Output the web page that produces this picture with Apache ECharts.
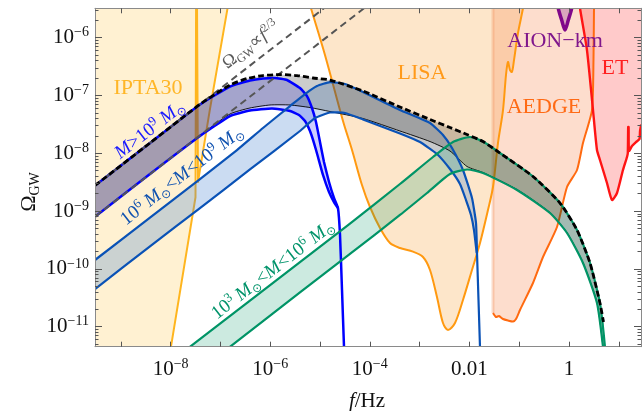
<!DOCTYPE html>
<html><head><meta charset="utf-8">
<script src="https://cdn.jsdelivr.net/npm/echarts@6/dist/echarts.min.js"></script>
<style>html,body{margin:0;padding:0;background:#fff}#c{width:642px;height:411px}</style>
</head><body><div id="c"></div>
<script>
// All values are log10(f/Hz), log10(Omega_GW)
const X_MIN = -9.518, X_MAX = 1.446, Y_MIN = -11.346, Y_MAX = -5.491;
const xMajorTicks = [-9,-8,-7,-6,-5,-4,-3,-2,-1,0,1];
const xLabelValues = [-8,-6,-4,-2,0];
const xLabelTexts = ['10^−8','10^−6','10^−4','0.01','1'];
const yMajorTicks = [-11,-10,-9,-8,-7,-6];
const yLabelTexts = ['10^−11','10^−10','10^−9','10^−8','10^−7','10^−6'];

// Sensitivity curves
const iptaCurve = [[-9.60,-11.60],[-8.04,-11.60],[-7.992,-11.346],[-7.711,-9.869],[-7.500,-8.760],[-7.488,-5.36],[-7.470,-5.36],[-7.450,-8.497],[-7.209,-7.230],[-6.857,-5.491],[-6.83,-5.33]];
const lisaCurve = [[-5.245,-5.30],[-5.181,-5.491],[-4.900,-6.299],[-4.538,-7.441],[-4.357,-7.943],[-4.157,-8.549],[-3.996,-8.929],[-3.795,-9.292],[-3.594,-9.552],[-3.394,-9.639],[-3.133,-9.702],[-2.932,-9.794],[-2.791,-10.019],[-2.651,-10.486],[-2.530,-10.936],[-2.430,-11.057],[-2.289,-10.936],[-2.129,-10.538],[-1.948,-10.019],[-1.787,-9.552],[-1.627,-8.981],[-1.526,-8.583],[-1.426,-7.822],[-1.325,-7.251],[-1.265,-6.645],[-1.225,-6.420],[-1.185,-6.559],[-1.145,-6.593],[-1.104,-6.386],[-1.024,-5.919],[-0.924,-5.491],[-0.894,-5.30]];
const aedgeCurve = [[-1.526,-10.763],[-1.466,-10.832],[-1.406,-10.815],[-1.325,-10.867],[-1.225,-10.893],[-1.124,-10.910],[-1.064,-10.867],[-0.984,-10.711],[-0.723,-10.244],[-0.522,-9.794],[-0.241,-9.275],[-0.040,-8.583],[0.161,-8.289],[0.281,-7.822],[0.462,-7.251],[0.492,-6.386],[0.502,-5.491],[0.506,-5.30]];
const etCurve = [[0.201,-5.30],[0.221,-5.491],[0.361,-6.213],[0.482,-7.251],[0.562,-7.943],[0.622,-8.116],[0.763,-8.514],[0.863,-8.808],[0.964,-8.687],[1.084,-8.289],[1.165,-8.064],[1.181,-7.995],[1.189,-7.545],[1.197,-7.545],[1.205,-7.960],[1.265,-7.874],[1.345,-7.805],[1.416,-7.753],[1.426,-7.62],[1.45,-7.50]];
const aionCurve = [[-0.241,-5.30],[-0.215,-5.491],[-0.147,-5.694],[-0.080,-5.867],[-0.014,-5.694],[0.054,-5.491],[0.080,-5.30]];

// SMBH binary bands
const band1Upper = [[-9.518,-8.557],[-8.414,-7.822],[-7.410,-7.156],[-6.807,-6.844],[-6.406,-6.741],[-6.145,-6.706],[-5.904,-6.697],[-5.663,-6.732],[-5.402,-6.870],[-5.261,-7.009],[-5.161,-7.216],[-5.080,-7.459],[-5.000,-7.805],[-4.920,-8.151],[-4.819,-8.497],[-4.719,-8.773],[-4.639,-8.947],[-4.598,-9.414],[-4.558,-10.365],[-4.518,-11.346],[-4.498,-11.75]];
const band1Lower = [[-9.518,-9.097],[-8.414,-8.358],[-7.410,-7.701],[-6.807,-7.355],[-6.406,-7.260],[-5.964,-7.225],[-5.602,-7.268],[-5.422,-7.337],[-5.301,-7.441],[-5.201,-7.614],[-5.120,-7.822],[-5.040,-8.064],[-4.940,-8.375],[-4.819,-8.670],[-4.719,-8.843],[-4.639,-8.947]];
const band2Upper = [[-9.518,-9.846],[-8.414,-9.111],[-7.410,-8.445],[-6.667,-7.943],[-6.145,-7.562],[-5.602,-7.182],[-5.301,-6.974],[-5.060,-6.836],[-4.799,-6.767],[-4.498,-6.801],[-4.137,-6.939],[-3.394,-7.251],[-2.791,-7.476],[-2.530,-7.683],[-2.349,-7.908],[-2.129,-8.289],[-1.948,-8.773],[-1.867,-9.206],[-1.847,-9.725],[-1.817,-10.538],[-1.787,-11.351],[-1.777,-11.663]];
const band2Lower = [[-9.518,-10.348],[-8.414,-9.611],[-7.410,-8.947],[-6.406,-8.280],[-5.402,-7.614],[-5.100,-7.389],[-4.799,-7.294],[-4.498,-7.303],[-4.137,-7.415],[-3.394,-7.657],[-2.992,-7.805],[-2.651,-8.012],[-2.390,-8.272],[-2.189,-8.531],[-2.068,-8.808],[-1.968,-9.067],[-1.908,-9.327],[-1.853,-9.725]];
const band3Upper = [[-7.651,-11.374],[-6.406,-10.547],[-5.402,-9.881],[-4.398,-9.215],[-3.394,-8.531],[-2.731,-8.064],[-2.329,-7.805],[-1.988,-7.718],[-1.727,-7.796],[-1.386,-7.995],[-0.723,-8.401],[-0.181,-8.860],[0.161,-9.327],[0.422,-9.898],[0.622,-10.590],[0.723,-11.351],[0.733,-11.576]];
const band3Lower = [[-6.847,-11.374],[-5.402,-10.408],[-4.398,-9.742],[-3.394,-9.067],[-2.851,-8.687],[-2.390,-8.358],[-2.048,-8.280],[-1.727,-8.341],[-1.044,-8.635],[-0.382,-9.033],[-0.040,-9.379],[0.281,-9.898],[0.562,-10.590],[0.683,-11.351],[0.693,-11.576]];
const totalUpper = [[-9.518,-8.557],[-8.414,-7.822],[-7.410,-7.152],[-6.807,-6.818],[-6.466,-6.706],[-6.145,-6.654],[-5.803,-6.637],[-5.462,-6.654],[-5.141,-6.697],[-4.799,-6.732],[-4.137,-6.922],[-3.394,-7.199],[-2.791,-7.415],[-2.390,-7.554],[-2.048,-7.675],[-1.727,-7.796],[-1.386,-7.995],[-0.723,-8.401],[-0.181,-8.860],[0.161,-9.327],[0.422,-9.898],[0.622,-10.590],[0.693,-10.919]];
const totalLower = [[-9.518,-9.097],[-8.414,-8.358],[-7.410,-7.692],[-6.807,-7.320],[-6.406,-7.216],[-6.004,-7.164],[-5.602,-7.164],[-5.201,-7.208],[-4.799,-7.277],[-4.137,-7.398],[-3.394,-7.614],[-2.791,-7.796],[-2.390,-7.960],[-2.048,-8.228],[-1.727,-8.332],[-1.044,-8.626],[-0.382,-9.024],[-0.040,-9.370],[0.281,-9.889],[0.562,-10.581],[0.683,-11.351],[0.693,-11.576]];
const powerLawUpper = [[-9.518,-8.557],[-4.920,-5.491]];
const powerLawLower = [[-9.518,-9.097],[-4.116,-5.491]];

// ---- rendering helpers ----
const SERIF = '"Liberation Serif","Times New Roman",serif';
const TOP = Y_MAX + 0.2, MID = [(X_MIN + X_MAX) / 2, (Y_MIN + Y_MAX) / 2];
function fillSeries(pts, color, z) {
  return {type:'custom', coordinateSystem:'cartesian2d', clip:true, silent:true, z:z, data:[MID],
    renderItem:(p, api) => ({type:'polygon', shape:{points: pts.map(q => api.coord(q))}, style:{fill:color, stroke:null}})};
}
function strokeSeries(pts, color, width, dash, z, smooth) {
  return {type:'custom', coordinateSystem:'cartesian2d', clip:true, silent:true, z:z, data:[MID],
    renderItem:(p, api) => ({type:'polyline', shape:{points: pts.map(q => api.coord(q)), smooth: smooth || 0},
      style:{stroke:color, lineWidth:width, lineDash: dash || null, fill:null, lineJoin:'round', lineCap:'butt'}})};
}
const rev = a => a.slice().reverse();
const closeTop = c => c.concat([[c[c.length-1][0], TOP], [c[0][0], TOP]]);

const C = {
  ipta:'#ffb51e', iptaFill:'rgba(255,200,80,0.26)',
  lisa:'#ff9910', lisaFill:'rgba(250,178,90,0.32)',
  aedge:'#ff6a10', aedgeFill:'rgba(248,150,100,0.32)',
  et:'#ff1414', etFill:'rgba(255,100,100,0.34)',
  aion:'#80088a', aionFill:'rgba(150,60,160,0.35)',
  b1:'#0000ff', b1Fill:'rgba(60,60,255,0.25)',
  b2:'#0a52b6', b2Fill:'rgba(70,130,210,0.28)',
  b3:'#009466', b3Fill:'rgba(0,150,100,0.2)',
  totFill:'rgba(0,0,0,0.2)'
};

const series = [
  fillSeries(closeTop(iptaCurve), C.iptaFill, 1),
  fillSeries(lisaCurve, C.lisaFill, 1),
  fillSeries(closeTop([[aedgeCurve[0][0], TOP]].concat(aedgeCurve)), C.aedgeFill, 1),
  fillSeries(closeTop(etCurve), C.etFill, 1),
  fillSeries(aionCurve, C.aionFill, 1),
  strokeSeries([[aedgeCurve[0][0], TOP], aedgeCurve[0]], 'rgba(240,150,100,0.35)', 3, null, 2, 0),
  strokeSeries(iptaCurve, C.ipta, 2, null, 2, 0),
  strokeSeries(lisaCurve, C.lisa, 2, null, 2, 0.3),
  strokeSeries(aedgeCurve, C.aedge, 2, null, 2, 0.2),
  strokeSeries(etCurve, C.et, 2.4, null, 2, 0.2),
  strokeSeries(aionCurve, C.aion, 3.5, null, 2, 0.3),
  fillSeries(band1Upper.concat(rev(band1Lower)), C.b1Fill, 3),
  fillSeries(band2Upper.concat(rev(band2Lower)), C.b2Fill, 3),
  fillSeries(band3Upper.concat(rev(band3Lower)), C.b3Fill, 3),
  fillSeries(totalUpper.concat(band3Upper.slice(-2), rev(totalLower)), C.totFill, 3),
  strokeSeries(totalLower, '#000', 0.9, null, 4, 0.2),
  strokeSeries(band1Upper, C.b1, 2.5, null, 5, 0.12),
  strokeSeries(band1Lower, C.b1, 2.5, null, 5, 0.12),
  strokeSeries(band2Upper, C.b2, 2.2, null, 5, 0.15),
  strokeSeries(band2Lower, C.b2, 2.2, null, 5, 0.15),
  strokeSeries(band3Upper, C.b3, 2.2, null, 5, 0.2),
  strokeSeries(band3Lower, C.b3, 2.2, null, 5, 0.2),
  strokeSeries(powerLawUpper, '#555', 2, [7, 4.5], 6, 0),
  strokeSeries(powerLawLower, '#555', 2, [7, 4.5], 6, 0),
  strokeSeries(totalUpper, '#000', 2.8, [6, 3], 7, 0.2)
];

// ---- axes ----
const axisLine = {show:true, onZero:false, lineStyle:{color:'#8a8a8a', width:1}};
const tickLine = {color:'#555', width:1};
const labelRich = {
  b:{fontSize:21, fontFamily:SERIF, color:'#111', lineHeight:24},
  s:{fontSize:14, fontFamily:SERIF, color:'#111', lineHeight:14, verticalAlign:'top'}
};
function fmt(t) {
  if (t.indexOf('^') < 0) return '{b|' + t + '}';
  const p = t.split('^'); return '{b|' + p[0] + '}{s|' + p[1] + '}';
}
const yMinorTicks = [];
for (let n = -12; n <= -6; n++) for (let k = 2; k <= 9; k++) {
  const v = n + Math.log10(k); if (v > Y_MIN && v < Y_MAX) yMinorTicks.push(v);
}
function xAx(pos, labels) {
  return {type:'value', position:pos, min:X_MIN, max:X_MAX, z:20, axisLine:axisLine,
    axisTick:{show:true, inside:true, length:5, customValues:xMajorTicks, lineStyle:tickLine},
    axisLabel: labels ? {show:true, customValues:xLabelValues, margin:11, rich:labelRich,
      formatter:v => { const i = xLabelValues.findIndex(x => Math.abs(x - v) < 1e-6); return i < 0 ? '' : fmt(xLabelTexts[i]); }} : {show:false},
    splitLine:{show:false}};
}
function yAx(pos, minor, labels) {
  return {type:'value', position:pos, min:Y_MIN, max:Y_MAX, z:20,
    axisLine: minor ? {show:false, onZero:false} : axisLine,
    axisTick:{show:true, inside:true, length: minor ? 3.5 : 7, customValues: minor ? yMinorTicks : yMajorTicks, lineStyle:tickLine},
    axisLabel: labels ? {show:true, customValues:yMajorTicks, margin:6, rich:labelRich,
      formatter:v => { const i = yMajorTicks.findIndex(x => Math.abs(x - v) < 1e-6); return i < 0 ? '' : fmt(yLabelTexts[i]); }} : {show:false},
    splitLine:{show:false}};
}

// ---- text annotations ----
function rich(color, size) {
  return {
    n:{fontFamily:SERIF, fontSize:size, lineHeight:size + 4, fill:color, color:color},
    i:{fontFamily:SERIF, fontStyle:'italic', fontSize:size, lineHeight:size + 4, fill:color, color:color},
    s:{fontFamily:SERIF, fontSize:Math.round(size * 0.66), lineHeight:Math.round(size * 0.66), verticalAlign:'top', fill:color, color:color},
    o:{fontFamily:'"DejaVu Sans"', fontSize:Math.round(size * 0.62), lineHeight:Math.round(size * 0.62), verticalAlign:'bottom', fill:color, color:color},
    g:{fontFamily:SERIF, fontSize:Math.round(size * 0.64), lineHeight:Math.round(size * 0.64), verticalAlign:'bottom', fill:color, color:color}
  };
}
function txt(x, y, text, color, size, rot, z) {
  return {type:'text', x:x, y:y, rotation:rot || 0, z:z || 100, silent:true,
    style:{text:text, rich:rich(color, size), fill:color, font: size + 'px ' + SERIF, align:'center', verticalAlign:'middle'}};
}
const ANG = 0.658;
const graphic = [
  txt(148, 88, '{n|IPTA30}', '#ffb627', 22),
  txt(422, 73, '{n|LISA}', '#ff9a1a', 22),
  txt(544, 107, '{n|AEDGE}', '#ff6a14', 22),
  txt(555, 41, '{n|AION−km}', '#80178c', 22),
  txt(615, 68, '{n|ET}', '#ff2020', 22),
  txt(251, 45, '{n|Ω}{g|GW}{n|∝}{i|f}{s|2/3}', '#5a5a5a', 18, ANG),
  txt(150, 130, '{i|M}{n|>10}{s|9}{n| }{i|M}{o|⊙}', '#1a1aff', 19, ANG),
  txt(182, 176, '{n|10}{s|6}{n| }{i|M}{o|⊙}{n|<}{i|M}{n|<10}{s|9}{n| }{i|M}{o|⊙}', '#1052b0', 19, ANG),
  txt(273, 270, '{n|10}{s|3}{n| }{i|M}{o|⊙}{n|<}{i|M}{n|<10}{s|6}{n| }{i|M}{o|⊙}', '#00936a', 19, ANG),
  txt(29, 192, '{n|Ω}{g|GW}', '#111', 22, Math.PI / 2),
  txt(367, 401, '{i|f}{n|/Hz}', '#111', 21)
];

const chart = echarts.init(document.getElementById('c'), null, {renderer:'canvas', width:642, height:411});
chart.setOption({
  animation:false, backgroundColor:'#fff',
  grid:{left:95, right:1, top:8.3, bottom:64.3, containLabel:false},
  xAxis:[xAx('bottom', true), xAx('top', false)],
  yAxis:[yAx('left', false, true), yAx('left', true, false), yAx('right', false, false), yAx('right', true, false)],
  series: series,
  graphic: graphic
});
</script></body></html>
